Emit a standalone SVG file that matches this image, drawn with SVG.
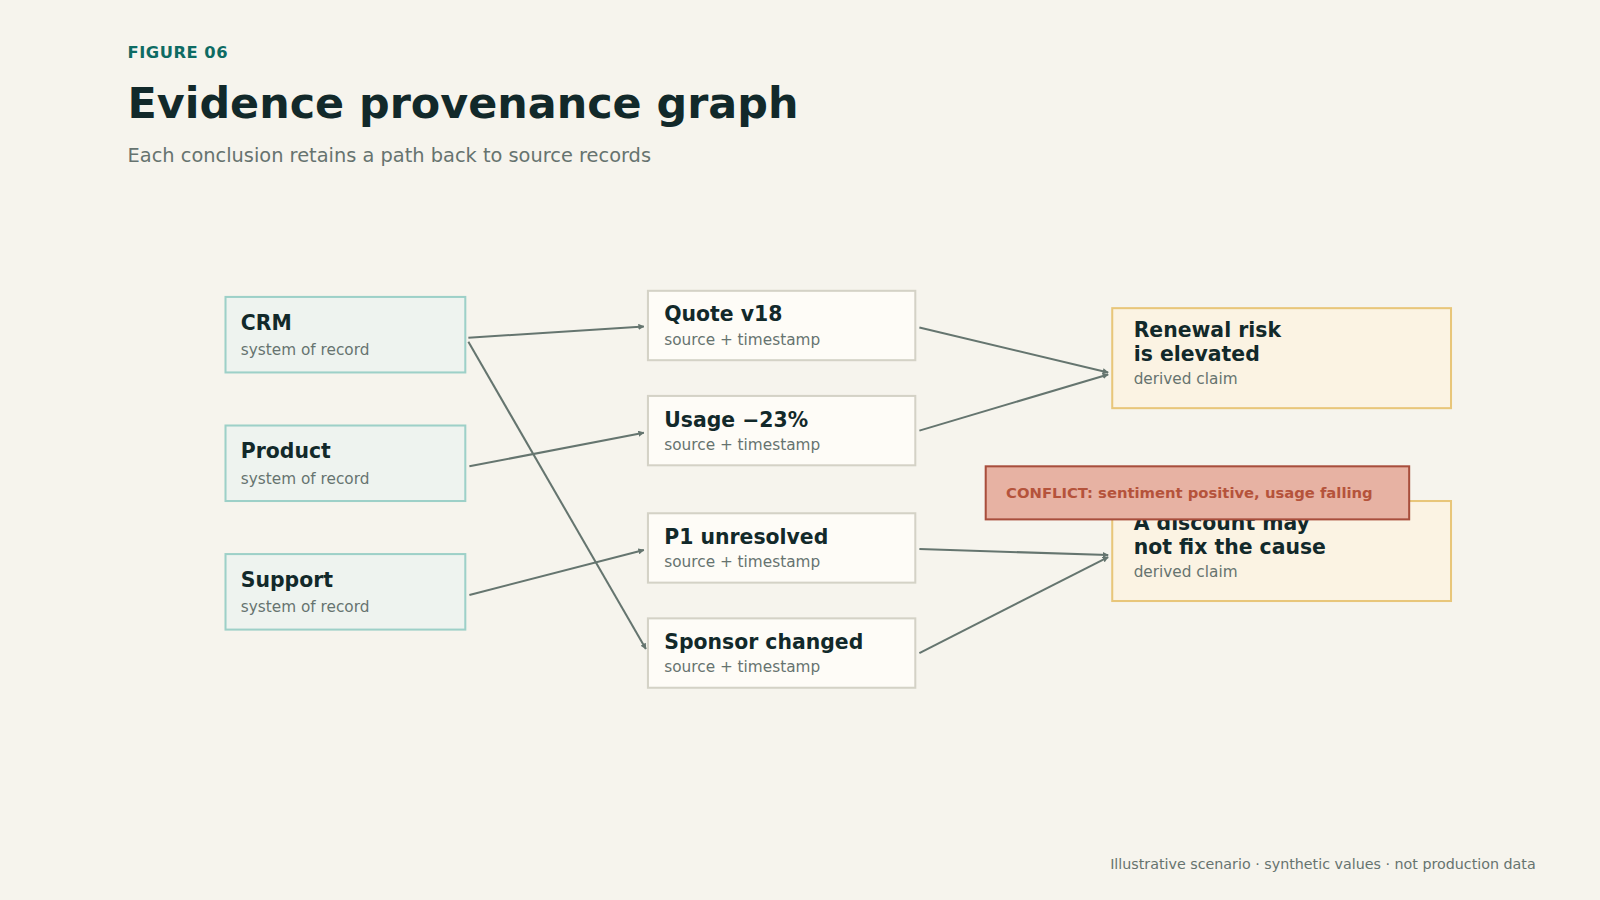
<svg xmlns="http://www.w3.org/2000/svg" width="1600" height="900" viewBox="0 0 1600 900">
<defs>
<marker id="ah" viewBox="0 0 10 10" refX="9" refY="5" markerWidth="6" markerHeight="6" orient="auto" markerUnits="userSpaceOnUse"><path d="M0,0 L10,5 L0,10 z" fill="#65756f"/></marker>
<style>
text{font-family:"DejaVu Sans","Noto Sans",sans-serif}
.src{fill:#eef3ef;stroke:#9dd0c8;stroke-width:2}
.mid{fill:#fefcf7;stroke:#d4d2c6;stroke-width:2}
.out{fill:#fbf3e3;stroke:#e8c67a;stroke-width:2}
.t{font-size:20px;font-weight:bold;fill:#12292a}
.s{font-size:15px;fill:#66736f}
.e{stroke:#65756f;stroke-width:2;fill:none;marker-end:url(#ah)}
</style>
</defs>
<rect width="1600" height="900" fill="#f6f4ed"/>
<g transform="scale(1.0204)">
<text x="125" y="57" font-size="16" font-weight="bold" fill="#0e6b63" letter-spacing="0.5">FIGURE 06</text>
<text x="125" y="116" font-size="42" font-weight="bold" fill="#12292a">Evidence provenance graph</text>
<text x="125" y="159" font-size="19" fill="#66736f">Each conclusion retains a path back to source records</text>
<g id="connectors">
<line class="e" x1="459" y1="331" x2="631" y2="320"/>
<line class="e" x1="459" y1="335" x2="633" y2="636"/>
<line class="e" x1="460" y1="457" x2="631" y2="424"/>
<line class="e" x1="460" y1="583" x2="631" y2="539"/>
<line class="e" x1="901" y1="321" x2="1086" y2="365"/>
<line class="e" x1="901" y1="422" x2="1086" y2="367"/>
<line class="e" x1="901" y1="538" x2="1086" y2="544"/>
<line class="e" x1="901" y1="640" x2="1086" y2="546"/>
</g>
<g id="crm"><rect class="src" x="221" y="291" width="235" height="74"/><text class="t" x="236" y="323">CRM</text><text class="s" x="236" y="348">system of record</text></g>
<g id="product"><rect class="src" x="221" y="417" width="235" height="74"/><text class="t" x="236" y="449">Product</text><text class="s" x="236" y="474">system of record</text></g>
<g id="support"><rect class="src" x="221" y="543" width="235" height="74"/><text class="t" x="236" y="575">Support</text><text class="s" x="236" y="600">system of record</text></g>
<g id="quote"><rect class="mid" x="635" y="285" width="262" height="68"/><text class="t" x="651" y="315">Quote v18</text><text class="s" x="651" y="338">source + timestamp</text></g>
<g id="usage"><rect class="mid" x="635" y="388" width="262" height="68"/><text class="t" x="651" y="418">Usage −23%</text><text class="s" x="651" y="441">source + timestamp</text></g>
<g id="p1"><rect class="mid" x="635" y="503" width="262" height="68"/><text class="t" x="651" y="533">P1 unresolved</text><text class="s" x="651" y="556">source + timestamp</text></g>
<g id="sponsor"><rect class="mid" x="635" y="606" width="262" height="68"/><text class="t" x="651" y="636">Sponsor changed</text><text class="s" x="651" y="659">source + timestamp</text></g>
<g id="renewal"><rect class="out" x="1090" y="302" width="332" height="98"/><text class="t" x="1111" y="330">Renewal risk</text><text class="t" x="1111" y="354">is elevated</text><text class="s" x="1111" y="376">derived claim</text></g>
<g id="discount"><rect class="out" x="1090" y="491" width="332" height="98"/><text class="t" x="1111" y="519">A discount may</text><text class="t" x="1111" y="543">not fix the cause</text><text class="s" x="1111" y="565">derived claim</text></g>
<g id="conflict"><rect x="966" y="457" width="415" height="52" fill="#e7b2a3" stroke="#a84e3c" stroke-width="2"/><text x="986" y="488" font-size="14.5" font-weight="bold" fill="#b5533b">CONFLICT: sentiment positive, usage falling</text></g>
<text x="1505" y="852" font-size="14" fill="#66736f" text-anchor="end">Illustrative scenario · synthetic values · not production data</text>
</g>
</svg>
